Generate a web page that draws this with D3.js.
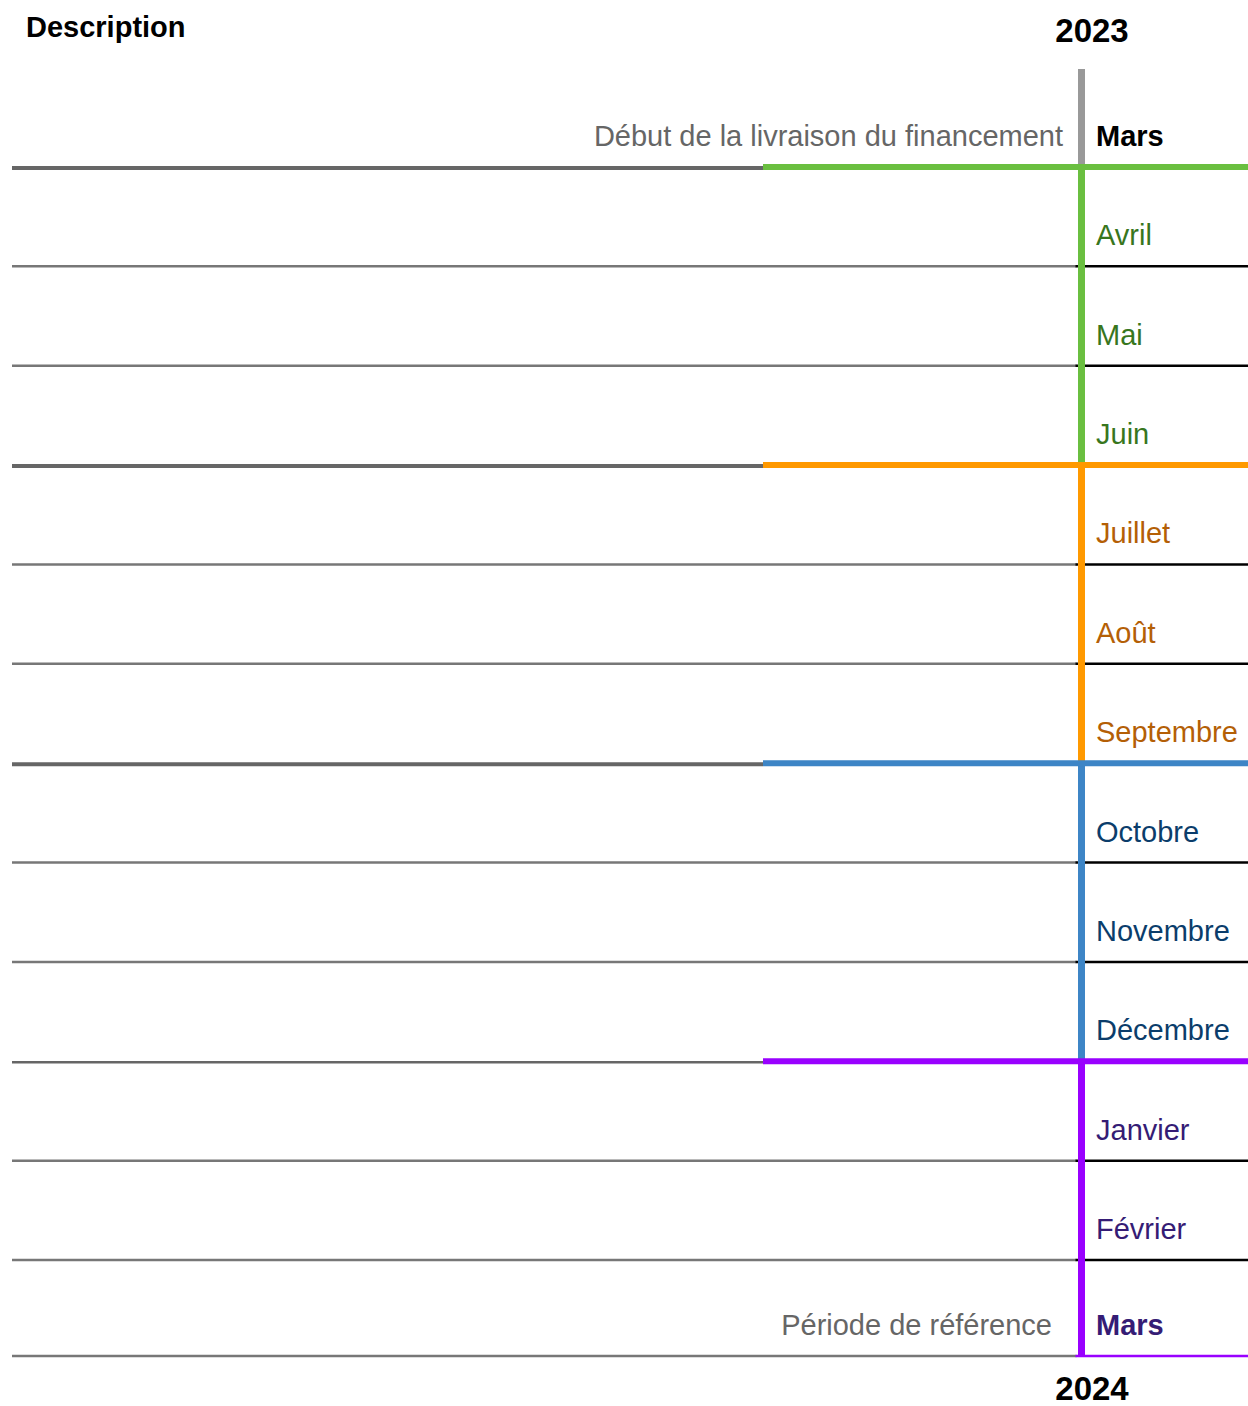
<!DOCTYPE html>
<html>
<head>
<meta charset="utf-8">
<script src="https://cdn.jsdelivr.net/npm/d3@7"></script>
<style>
  body { margin: 0; background: #fff; }
  svg { display: block; font-family: "Liberation Sans", Arial, sans-serif; }
</style>
</head>
<body>
<div id="chart"></div>
<script>
// months of the reference period, one row each
var months = ["Mars", "Avril", "Mai", "Juin", "Juillet", "Août", "Septembre",
              "Octobre", "Novembre", "Décembre", "Janvier", "Février", "Mars"];
// quarter index of each month
var quarterOf = [0, 0, 0, 0, 1, 1, 1, 2, 2, 2, 3, 3, 3];
var quarterStarts = [0, 3, 6, 9];
var yearLabels = ["2023", "2024"];
var sideNotes = [{row: 0, text: "Début de la livraison du financement"},
                 {row: 12, text: "Période de référence"}];

var lineColors = ["#6abf40", "#ff9900", "#3d85c6", "#9900ff"];
var textColors = ["#38761d", "#b45f06", "#0b3d6b", "#351c75"];

var width = 1248, height = 1406;
var left = 12, right = 1248, axisX = 1081.5, splitX = 763;

var svg = d3.select("#chart")
    .append("svg")
    .attr("width", width)
    .attr("height", height);

// row boundaries (line under each month), last row a bit shorter
var y = d3.scaleLinear()
    .domain([0, months.length - 2, months.length - 1])
    .range([167, 1260, 1356]);

// plain row lines
var rows = d3.range(months.length);
var plain = rows.filter(function(i){ return quarterStarts.indexOf(i) < 0; });

svg.append("g").selectAll("line")
    .data(plain)
    .join("line")
        .attr("x1", left).attr("x2", axisX - 5)
        .attr("y1", d => y(d)).attr("y2", d => y(d))
        .style("stroke", "#777")
        .style("stroke-width", 2.5);

svg.append("g").selectAll("line")
    .data(plain)
    .join("line")
        .attr("x1", axisX - 6).attr("x2", right)
        .attr("y1", d => y(d)).attr("y2", d => y(d))
        .style("stroke", d => d == months.length - 1 ? lineColors[3] : "#000")
        .style("stroke-width", 2.5);

// left part of quarter lines
svg.append("g").selectAll("line")
    .data(quarterStarts)
    .join("line")
        .attr("x1", left).attr("x2", splitX)
        .attr("y1", d => y(d) + 1).attr("y2", d => y(d) + 1)
        .style("stroke", "#666")
        .style("stroke-width", d => d == 9 ? 2.5 : 4);

// vertical timeline
svg.append("line")
    .attr("x1", axisX).attr("x2", axisX)
    .attr("y1", 69).attr("y2", y(0))
    .style("stroke", "#999")
    .style("stroke-width", 7);

svg.append("g").selectAll("line")
    .data(quarterStarts)
    .join("line")
        .attr("x1", axisX).attr("x2", axisX)
        .attr("y1", d => y(d))
        .attr("y2", d => y(Math.min(d + 3, months.length - 1)))
        .style("stroke", (d, i) => lineColors[i])
        .style("stroke-width", 7);

// colored quarter lines
svg.append("g").selectAll("line")
    .data(quarterStarts)
    .join("line")
        .attr("x1", splitX).attr("x2", right)
        .attr("y1", d => y(d)).attr("y2", d => y(d))
        .style("stroke", (d, i) => lineColors[i])
        .style("stroke-width", 6);

// month labels
svg.append("g").selectAll("text")
    .data(months)
    .join("text")
        .attr("x", 1096)
        .attr("y", (d, i) => y(i) - 21)
        .style("font-size", "29px")
        .style("font-weight", (d, i) => (i == 0 || i == months.length - 1) ? "bold" : "normal")
        .style("fill", (d, i) => i == 0 ? "#000" : textColors[quarterOf[i]])
        .text(d => d);

// notes on the left of the timeline
svg.append("g").selectAll("text")
    .data(sideNotes)
    .join("text")
        .attr("x", d => d.row == 0 ? 1063 : 1052)
        .attr("y", d => y(d.row) - 21)
        .attr("text-anchor", "end")
        .style("font-size", "29px")
        .style("fill", "#666")
        .text(d => d.text);

svg.append("text")
    .attr("x", 26).attr("y", 37)
    .style("font-size", "29px")
    .style("font-weight", "bold")
    .text("Description");

svg.append("g").selectAll("text")
    .data(yearLabels)
    .join("text")
        .attr("x", 1092)
        .attr("y", (d, i) => i == 0 ? 42 : 1400)
        .attr("text-anchor", "middle")
        .style("font-size", "33px")
        .style("font-weight", "bold")
        .text(d => d);
</script>
</body>
</html>
